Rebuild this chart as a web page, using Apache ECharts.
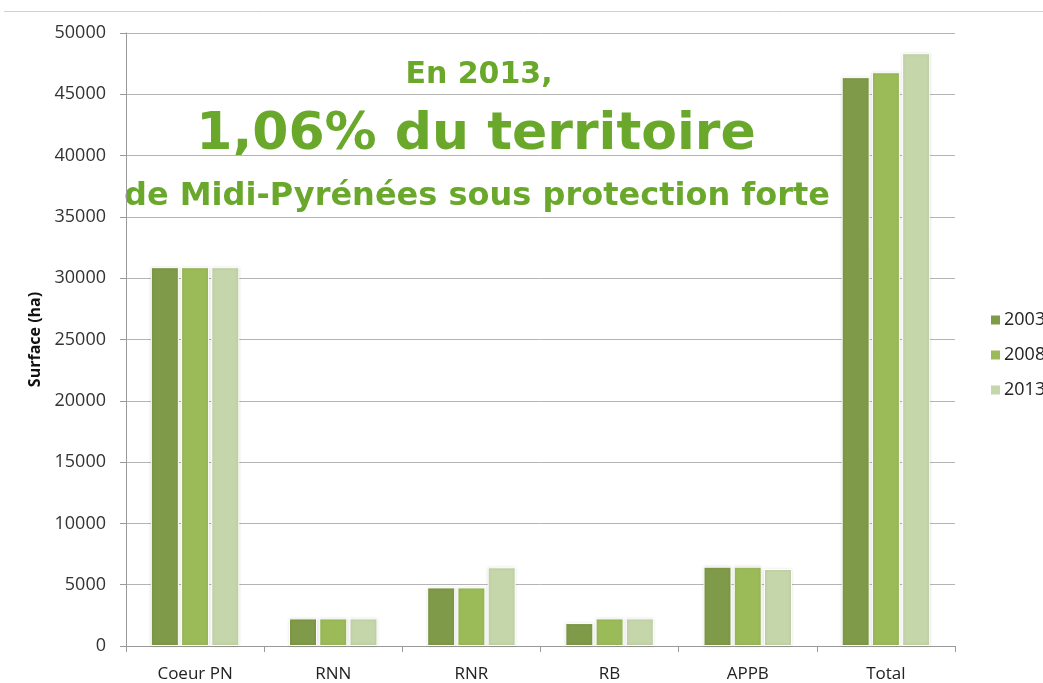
<!DOCTYPE html>
<html><head><meta charset="utf-8">
<script src="https://cdn.jsdelivr.net/npm/echarts@6/dist/echarts.min.js"></script>
<style>html,body{margin:0;padding:0;background:#fff}#c{width:1043px;height:683px}</style>
</head><body><div id="c"></div>
<script>
const categories = ['Coeur PN', 'RNN', 'RNR', 'RB', 'APPB', 'Total'];
const years = ['2003', '2008', '2013'];
const s2003 = [30900, 2250, 4780, 1870, 6470, 46400];
const s2008 = [30900, 2250, 4780, 2250, 6470, 46800];
const s2013 = [30900, 2250, 6420, 2250, 6280, 48350];
const yTicks = { min: 0, max: 50000, interval: 5000 };
const colors = ['#7f9a48', '#9bbb59', '#c5d6aa'];
const green = '#6aa82c';

const chart = echarts.init(document.getElementById('c'));
const seriesData = [s2003, s2008, s2013];
chart.setOption({
  animation: false,
  color: colors,
  grid: { left: 126, right: 88, top: 33, bottom: 36 },
  legend: {
    orient: 'vertical', left: 984, top: 306, itemWidth: 11, itemHeight: 11, itemGap: 17,
    icon: 'rect',
    textStyle: { fontFamily: 'Open Sans', fontSize: 18, color: '#222', padding: [0,0,0,-2] },
    data: years
  },
  xAxis: {
    type: 'category', data: categories,
    axisLine: { lineStyle: { color: '#9a9a9a' } },
    axisTick: { show: true, alignWithLabel: false, length: 6, lineStyle: { color: '#9a9a9a' } },
    axisLabel: { fontFamily: 'Open Sans', fontSize: 17, color: '#222', margin: 20 }
  },
  yAxis: {
    type: 'value', min: yTicks.min, max: yTicks.max, interval: yTicks.interval,
    name: 'Surface (ha)', nameLocation: 'middle', nameGap: 81, nameRotate: 90,
    nameTextStyle: { fontFamily: 'Open Sans', fontSize: 16, fontWeight: 'bold', color: '#111' },
    axisLine: { show: true, lineStyle: { color: '#9a9a9a' } },
    axisTick: { show: true, length: 6, lineStyle: { color: '#9a9a9a' } },
    axisLabel: { fontFamily: 'Open Sans', fontSize: 18, color: '#333', margin: 20, formatter: v => String(v) },
    splitLine: { lineStyle: { color: '#b4b4b4', width: 1 } }
  },
  series: years.map((y, i) => ({
    name: y, type: 'bar', data: seriesData[i],
    barWidth: 28, barGap: '8%',
    itemStyle: { borderColor: '#ffffff', borderWidth: 1, shadowColor: 'rgba(0,0,0,0.15)', shadowBlur: 3 }
  })),
  graphic: [
    { type: 'line', shape: { x1: 4, y1: 11.5, x2: 1043, y2: 11.5 }, style: { stroke: '#d0d0d0', lineWidth: 1 } },
    { type: 'text', x: 479, y: 75, style: { text: 'En 2013,', fill: green, font: 'bold 30px "DejaVu Sans"', textAlign: 'center', textVerticalAlign: 'middle' } },
    { type: 'text', x: 476, y: 135, style: { text: '1,06% du territoire', fill: green, font: 'bold 52px "DejaVu Sans"', textAlign: 'center', textVerticalAlign: 'middle' } },
    { type: 'text', x: 477, y: 197, style: { text: 'de Midi-Pyrénées sous protection forte', fill: green, font: 'bold 32px "DejaVu Sans"', textAlign: 'center', textVerticalAlign: 'middle' } }
  ]
});
</script></body></html>
